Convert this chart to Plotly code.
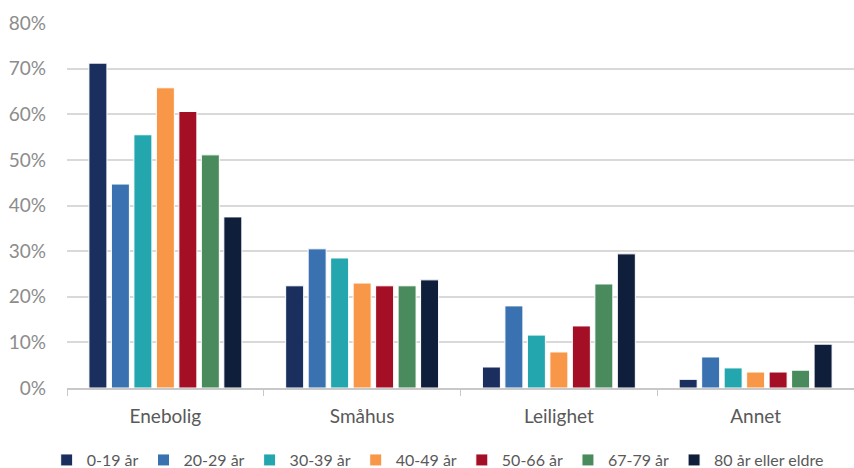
import plotly.graph_objects as go

categories = ["Enebolig", "Småhus", "Leilighet", "Annet"]
age_groups = ["0-19 år", "20-29 år", "30-39 år", "40-49 år", "50-66 år", "67-79 år", "80 år eller eldre"]

# Share of each age group living in each dwelling type (fraction)
v_0_19 = [0.712, 0.224, 0.046, 0.019]
v_20_29 = [0.447, 0.305, 0.180, 0.068]
v_30_39 = [0.555, 0.285, 0.116, 0.044]
v_40_49 = [0.658, 0.230, 0.079, 0.035]
v_50_66 = [0.606, 0.224, 0.136, 0.035]
v_67_79 = [0.511, 0.224, 0.228, 0.039]
v_80_plus = [0.375, 0.237, 0.294, 0.096]

series = [v_0_19, v_20_29, v_30_39, v_40_49, v_50_66, v_67_79, v_80_plus]
colors = ["#1b2f5f", "#3a72b1", "#23a6ae", "#f79747", "#a50f25", "#4a8b5d", "#0f1e3a"]

font_family = "Lato, 'Open Sans', sans-serif"

fig = go.Figure()
for name, vals, col in zip(age_groups, series, colors):
    fig.add_trace(go.Bar(
        x=categories, y=vals, name=name,
        marker=dict(color=col, line=dict(color="white", width=1)),
    ))

fig.update_layout(
    width=854, height=468,
    margin=dict(l=67, r=0, t=23, b=80),
    paper_bgcolor="white", plot_bgcolor="white",
    barmode="group", bargap=0.2, bargroupgap=0.2,
    font=dict(family=font_family, size=19, color="#595959"),
    legend=dict(
        orientation="h",
        x=0.471, xanchor="center",
        yref="container", y=0.017, yanchor="middle",
        font=dict(size=16, color="#595959"), itemwidth=30, tracegroupgap=0,
        traceorder="normal",
    ),
    showlegend=True,
)
fig.update_yaxes(
    range=[0, 0.8], dtick=0.1, tickformat=".0%",
    showgrid=True, gridcolor="#d9d9d9", gridwidth=1.5,
    zeroline=False, showline=False,
    tickfont=dict(size=19, color="#8c8c8c"), ticks="", ticklen=0,
    ticklabelstandoff=20,
)
fig.update_xaxes(
    showline=True, linecolor="#c8c8c8", linewidth=1.5,
    ticks="outside", tickson="boundaries", ticklen=6, tickcolor="#c8c8c8",
    tickfont=dict(size=19, color="#595959"),
    ticklabelstandoff=10,
)

fig.write_html("out.html")
